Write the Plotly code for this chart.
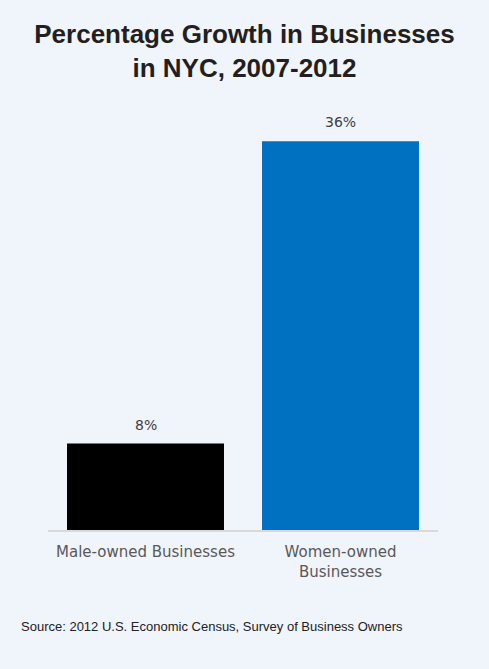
import plotly.graph_objects as go

# Data
categories = ["Male-owned Businesses", "Women-owned<br>Businesses"]
growth_pct = [8, 36]
bar_labels = ["8%", "36%"]
bar_colors = ["#000000", "#0070C0"]

bg = "#F0F4FB"
W, H = 489, 669

fig = go.Figure()
fig.add_trace(
    go.Bar(
        x=categories,
        y=growth_pct,
        marker_color=bar_colors,
        marker_line_width=0,
        hoverinfo="skip",
    )
)

# value labels above the bars
for cat, val, lab in zip(categories, growth_pct, bar_labels):
    fig.add_annotation(
        x=cat, y=val, text=lab,
        xanchor="center", yanchor="bottom", yshift=9,
        showarrow=False,
        font=dict(family="DejaVu Sans", size=14, color="#404040"),
    )

fig.add_annotation(
    text="Source: 2012 U.S. Economic Census, Survey of Business Owners",
    xref="paper", yref="paper",
    x=-0.074, y=-0.2245,
    xanchor="left", yanchor="middle",
    showarrow=False,
    font=dict(family="Liberation Sans, Arial", size=13, color="#222222"),
)

fig.update_layout(
    width=W,
    height=H,
    paper_bgcolor=bg,
    plot_bgcolor=bg,
    showlegend=False,
    bargap=0.195,
    margin=dict(l=48, r=51, t=98, b=139),
    title=dict(
        text="<b>Percentage Growth in Businesses<br>in NYC, 2007-2012</b>",
        x=0.5,
        xanchor="center",
        y=1 - 43 / H,
        yanchor="middle",
        font=dict(family="Liberation Sans, Arial", size=26, color="#231F20"),
    ),
)

fig.update_xaxes(
    showline=True,
    linecolor="#D9D9D9",
    linewidth=2,
    ticks="",
    ticklabelstandoff=7,
    tickfont=dict(family="DejaVu Sans", size=15, color="#595959"),
    showgrid=False,
)
fig.update_yaxes(
    range=[0, 40],
    visible=False,
    showgrid=False,
    zeroline=False,
)

fig.write_html(
    "out.html",
    config={"displayModeBar": False},
    post_script="document.body.style.margin='0';document.body.style.background='%s';" % bg,
)
